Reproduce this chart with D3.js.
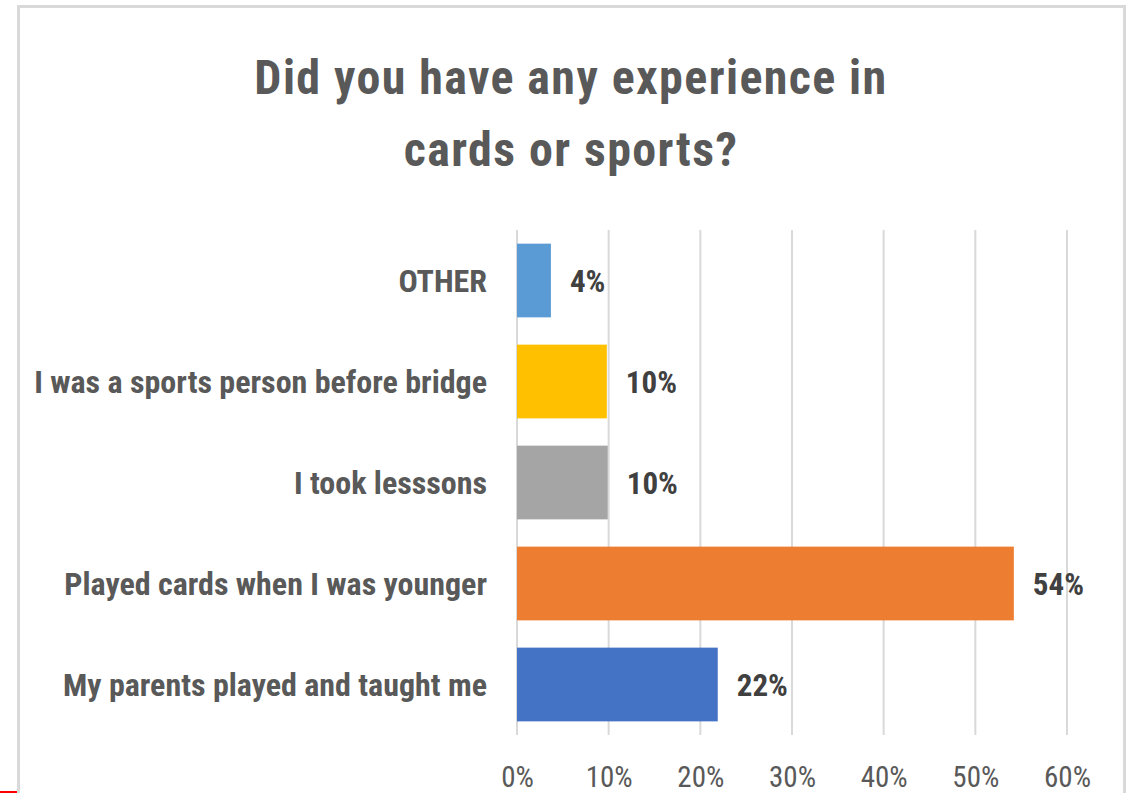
<!DOCTYPE html>
<html>
<head>
<meta charset="utf-8">
<script src="https://cdnjs.cloudflare.com/ajax/libs/d3/7.8.5/d3.min.js"></script>
<style>
body{margin:0;background:#fff;}
svg text{font-family:"Liberation Sans Narrow","Arial Narrow","Roboto Condensed",sans-serif;}
</style>
</head>
<body>
<svg id="chart"></svg>
<script>
// survey answers, top to bottom as drawn
var categories = ["OTHER","I was a sports person before bridge","I took lesssons","Played cards when I was younger","My parents played and taught me"]
var values = [3.7,9.8,9.9,54.2,21.9]
var valueLabels = ["4%","10%","10%","54%","22%"]
var colors = ["#5b9bd5","#ffc000","#a5a5a5","#ed7d31","#4472c4"]
var ticks = [0,10,20,30,40,50,60]

var initGraph = function()
{
    var screen = {width:1136,height:793}
    var margins = {left:517,right:69,top:230,bottom:58}
    var graph = {
        width:screen.width-margins.left-margins.right,
        height:screen.height-margins.top-margins.bottom
    }

    var svg = d3.select("#chart")
    .attr("width",screen.width)
    .attr("height",screen.height)

    //chart frame
    svg.append("rect")
    .attr("x",18.5).attr("y",6.5)
    .attr("width",1106).attr("height",820)
    .attr("fill","none")
    .attr("stroke","#d9d9d9")
    .attr("stroke-width",3)

    svg.append("line")
    .attr("x1",0).attr("x2",17)
    .attr("y1",792).attr("y2",792)
    .attr("stroke","#ff0000")
    .attr("stroke-width",2)

    //title
    var title = svg.append("text")
    .attr("text-anchor","middle")
    .attr("fill","#595959")
    .attr("font-weight","bold")
    .attr("font-size",48)
    .attr("letter-spacing",1.4)
    title.append("tspan").attr("x",571).attr("y",94).text("Did you have any experience in")
    title.append("tspan").attr("x",571).attr("y",166).text("cards or sports?")

    var xScale = d3.scaleLinear()
        .domain([0,60])
        .range([0,graph.width])

    var yScale = d3.scaleBand()
        .domain(categories)
        .range([0,graph.height])
        .paddingInner(0.27)
        .paddingOuter(0.135)

    var target = svg.append("g")
    .attr("transform","translate("+margins.left+","+margins.top+")")

    //grid
    target.append("g")
    .selectAll("line")
    .data(ticks)
    .enter()
    .append("line")
    .attr("x1",function(t){return xScale(t)})
    .attr("x2",function(t){return xScale(t)})
    .attr("y1",0)
    .attr("y2",graph.height)
    .attr("stroke","#d9d9d9")
    .attr("stroke-width",2)

    //x labels
    var xAxis = d3.axisBottom(xScale)
    .tickValues(ticks)
    .tickFormat(function(t){return t+"%"})
    .tickSize(0)
    .tickPadding(31)

    var ax = target.append("g")
    .attr("transform","translate(0,"+graph.height+")")
    .call(xAxis)
    ax.select(".domain").remove()
    ax.selectAll("text")
    .attr("font-size",29)
    .attr("fill","#595959")
    .style("font-family",null)

    //category labels
    target.append("g")
    .selectAll("text")
    .data(categories)
    .enter()
    .append("text")
    .attr("x",-30)
    .attr("y",function(c){return yScale(c)+yScale.bandwidth()/2})
    .attr("dy","0.36em")
    .attr("text-anchor","end")
    .attr("font-size",32)
    .attr("font-weight","bold")
    .attr("fill","#595959")
    .text(function(c){return c})

    //bars
    target.append("g")
    .selectAll("rect")
    .data(values)
    .enter()
    .append("rect")
    .attr("x",0)
    .attr("y",function(v,i){return yScale(categories[i])})
    .attr("width",function(v){return xScale(v)})
    .attr("height",yScale.bandwidth())
    .attr("fill",function(v,i){return colors[i]})

    //value labels
    target.append("g")
    .selectAll("text")
    .data(values)
    .enter()
    .append("text")
    .attr("x",function(v){return xScale(v)+19})
    .attr("y",function(v,i){return yScale(categories[i])+yScale.bandwidth()/2})
    .attr("dy","0.36em")
    .attr("font-size",31)
    .attr("font-weight","bold")
    .attr("fill","#404040")
    .text(function(v,i){return valueLabels[i]})
}

initGraph();
</script>
</body>
</html>
